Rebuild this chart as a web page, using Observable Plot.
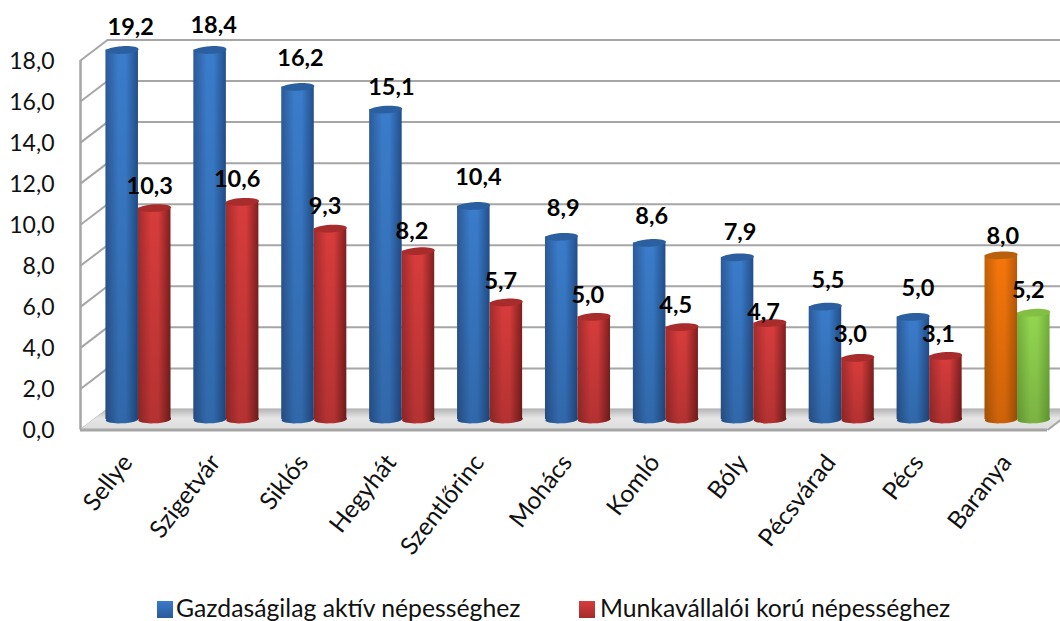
<!DOCTYPE html>
<html><head><meta charset="utf-8">
<script src="https://cdn.jsdelivr.net/npm/d3@7"></script>
<script src="https://cdn.jsdelivr.net/npm/@observablehq/plot@0.6"></script>
<style>
html,body{margin:0;padding:0;background:#fff;overflow:hidden}
#legend{position:relative;height:31px;font:24.75px Lato,sans-serif;color:#111}
#legend span{position:absolute;top:2px;white-space:nowrap;line-height:31px}
#legend i{position:absolute;top:11px;width:16px;height:17px}
</style></head><body>
<div id="chart"></div>
<div id="legend"></div>
<script>
const categories = ["Sellye","Szigetvár","Siklós","Hegyhát","Szentlőrinc","Mohács","Komló","Bóly","Pécsvárad","Pécs","Baranya"];
const activeValues = [19.2,18.4,16.2,15.1,10.4,8.9,8.6,7.9,5.5,5.0,8.0];
const workingValues = [10.3,10.6,9.3,8.2,5.7,5.0,4.5,4.7,3.0,3.1,5.2];
const seriesNames = ["Gazdaságilag aktív népességhez","Munkavállalói korú népességhez"];
const yTicks = [0,2,4,6,8,10,12,14,16,18];
const axisMax = 18;

// layout nudges of the value labels, in pixels
const activeNudge = [[9,-24.5],[4,-26.5],[3,-30],[6,-24],[5,-31],[2,-30],[2.5,-28],[3,-26.5],[3,-28],[5,-30],[2,-20.5]];
const workingNudge = [[-4.5,-24],[-5,-24],[-5,-24],[-6,-22],[-5,-22.6],[-6,-23],[-6,-24],[-6,-13],[-7,-25],[-7,-23],[-5,-24]];

const depthX = 0.307, depthY = 1;      // back wall offset, in scale units
const barDx = 14, barDy = -10.5;       // bars stand mid-depth
const labelDx = 13.5, labelDy = -8.5;
const inset = 0.13, mid = 0.5;

const fills = {active:"url(#gBlue)",working:"url(#gRed)",activeAll:"url(#gOrange)",workingAll:"url(#gGreen)"};
const caps = {active:"#2b5f9f",working:"#a82c2b",activeAll:"#b9600f",workingAll:"#82bf42"};

const rows = categories.flatMap((c,i)=>[
  {c,i,s:0,v:activeValues[i],key:i===10?"activeAll":"active",n:activeNudge[i]},
  {c,i,s:1,v:workingValues[i],key:i===10?"workingAll":"working",n:workingNudge[i]}
]).map(d=>({...d,
  x1:d.i+(d.s?mid:inset), x2:d.i+(d.s?1-inset:mid),
  xc:d.i+(d.s?(mid+1-inset)/2:(inset+mid)/2),
  base:0,
  top:Math.min(d.v,axisMax)}));

const ellipse = (a,b)=>({draw(p){
  const k=0.5523;
  p.moveTo(-a,0);
  p.bezierCurveTo(-a,-b*k,-a*k,-b,0,-b);
  p.bezierCurveTo(a*k,-b,a,-b*k,a,0);
  p.bezierCurveTo(a,b*k,a*k,b,0,b);
  p.bezierCurveTo(-a*k,b,-a,b*k,-a,0);
  p.closePath();
}});
const cap = ellipse(16.4,3.8);

const defs = ()=>{
  const grad=(id,a,b,c)=>`<linearGradient id="${id}" x1="0" x2="1" y1="0" y2="0"><stop offset="0" stop-color="${a}"/><stop offset=".4" stop-color="${b}"/><stop offset=".62" stop-color="${b}"/><stop offset="1" stop-color="${c}"/></linearGradient>`;
  const g=document.createElementNS("http://www.w3.org/2000/svg","defs");
  g.innerHTML=grad("gBlue","#2c5a98","#3a7ccb","#234f8a")+grad("gRed","#a32c2b","#d83c3c","#7f1f1f")+
    grad("gOrange","#c05f08","#f5760a","#b85a08")+grad("gGreen","#74b23c","#93d650","#70ae3a")+
    `<linearGradient id="gShade" x1="0" x2="0" y1="0" y2="1"><stop offset="0" stop-color="#000" stop-opacity="0"/><stop offset="1" stop-color="#000" stop-opacity=".16"/></linearGradient>`+
    `<linearGradient id="gFloor" x1="0" x2="0" y1="0" y2="1"><stop offset="0" stop-color="#b5b5b5"/><stop offset=".45" stop-color="#e6e6e6"/><stop offset="1" stop-color="#dcdcdc"/></linearGradient>`;
  return g;
};

const grey="#a6a6a6";
const plot = Plot.plot({
  width:1060, height:590,
  marginLeft:80, marginRight:13, marginTop:60, marginBottom:160.5,
  style:{fontFamily:"Lato, sans-serif",background:"#fff",color:"#111"},
  x:{type:"linear",domain:[0,categories.length],axis:null},
  y:{domain:[0,axisMax],axis:null},
  color:{domain:Object.keys(fills),range:Object.values(fills)},
  marks:[
    defs,
    // back wall
    Plot.ruleY(yTicks,{y:d=>d+depthY,x1:depthX,x2:categories.length+depthX,stroke:grey,strokeWidth:2}),
    // side wall
    Plot.link(yTicks,{x1:0,x2:depthX,y1:d=>d,y2:d=>d+depthY,stroke:grey,strokeWidth:2}),
    Plot.ruleX([0],{y1:0,y2:axisMax,stroke:grey,strokeWidth:2.5}),
    // floor
    Plot.areaX([0,depthY],{y:d=>d,x1:d=>d*depthX,x2:d=>categories.length+d*depthX,fill:"url(#gFloor)"}),
    Plot.ruleY([0],{x1:0,x2:categories.length,stroke:grey,strokeWidth:3}),
    Plot.link([0],{x1:categories.length,x2:categories.length+depthX,y1:0,y2:depthY,stroke:grey,strokeWidth:2}),
    // cylinders
    ...rows.flatMap(d=>[
      Plot.dot([d],{x:"xc",y:"base",symbol:cap,r:4,rotate:-3,fill:"key",dx:barDx,dy:barDy}),
      Plot.dot([d],{x:"xc",y:"base",symbol:cap,r:4,rotate:-3,fill:"#000",fillOpacity:.16,dx:barDx,dy:barDy}),
      Plot.rectY([d],{x1:"x1",x2:"x2",y1:"base",y2:"top",fill:"key",dx:barDx,dy:barDy}),
      Plot.rectY([d],{x1:"x1",x2:"x2",y1:"base",y2:"top",fill:"url(#gShade)",dx:barDx,dy:barDy}),
      Plot.dot([d],{x:"xc",y:"top",symbol:cap,r:4,rotate:-3,fill:{value:x=>caps[x.key],scale:null},dx:barDx,dy:barDy})
    ]),
    // axes
    Plot.axisY(yTicks,{anchor:"left",tickSize:0,tickPadding:26,tickFormat:d=>d.toFixed(1).replace(".",","),fontSize:23,textAnchor:"end",fill:"#111",label:null,dy:1}),
    Plot.axisX(categories.map((c,i)=>i+0.5),{anchor:"bottom",tickSize:0,tickPadding:15,tickRotate:-52,tickFormat:d=>categories[d-0.5],fontSize:24.5,fill:"#111",dx:3,dy:13,label:null}),
    // value labels
    ...rows.map(d=>Plot.text([d],{x:"xc",y:"top",text:x=>x.v.toFixed(1).replace(".",","),fontSize:23.5,fontWeight:700,fill:"#000",dx:labelDx+d.n[0],dy:labelDy+d.n[1]}))
  ]
});
document.getElementById("chart").appendChild(plot);
const lg=document.getElementById("legend");
lg.innerHTML=`<i style="left:157px;background:linear-gradient(#3a7ccb,#2a5a98)"></i><span style="left:176px">${seriesNames[0]}</span>`+
 `<i style="left:579px;background:linear-gradient(#d83c3c,#a32c2b)"></i><span style="left:600px">${seriesNames[1]}</span>`;
</script>
</body></html>
